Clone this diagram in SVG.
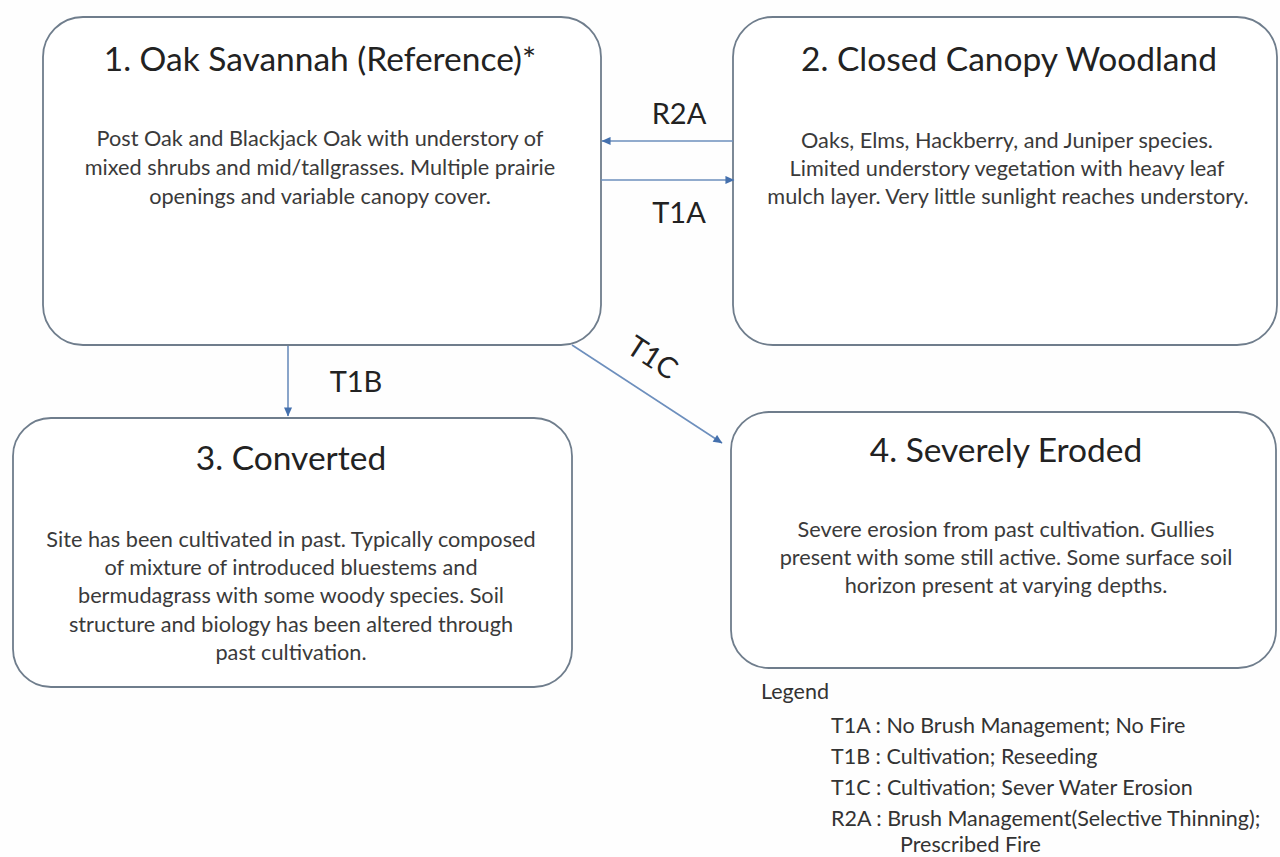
<svg xmlns="http://www.w3.org/2000/svg" width="1280" height="857" viewBox="0 0 1280 857">
<defs>
<style>
.box{fill:#ffffff;stroke:#6f7d8c;stroke-width:1.8}
.title{font-family:Lato,"Liberation Sans",sans-serif;font-size:33.5px;fill:#222;text-anchor:middle}
.body{font-family:Lato,"Liberation Sans",sans-serif;font-size:21.7px;fill:#3a3a3a;text-anchor:middle}
.lbl{font-family:Lato,"Liberation Sans",sans-serif;font-size:29px;fill:#222;text-anchor:middle}
.leg{font-family:Lato,"Liberation Sans",sans-serif;font-size:21.5px;fill:#333}
.conn{stroke:#6d8fbd;stroke-width:1.6;fill:none}
</style>
<marker id="ah" viewBox="0 0 10 10" refX="9.5" refY="5" markerWidth="10" markerHeight="9" orient="auto" markerUnits="userSpaceOnUse">
<path d="M0,0.5 L10,5 L0,9.5 z" fill="#4470ad"/>
</marker>
</defs>
<rect width="1280" height="857" fill="#fefefe"/>
<g id="node1">
<rect class="box" x="43" y="17" width="558" height="328" rx="40"/>
<text class="title" x="320" y="71">1. Oak Savannah (Reference)*</text>
<text class="body" x="320" y="146">Post Oak and Blackjack Oak with understory of</text>
<text class="body" x="320" y="175">mixed shrubs and mid/tallgrasses. Multiple prairie</text>
<text class="body" x="320" y="204">openings and variable canopy cover.</text>
</g>
<g id="node2">
<rect class="box" x="733" y="17" width="544" height="328" rx="40"/>
<text class="title" x="1009" y="71">2. Closed Canopy Woodland</text>
<text class="body" x="1007" y="148">Oaks, Elms, Hackberry, and Juniper species.</text>
<text class="body" x="1007" y="176">Limited understory vegetation with heavy leaf</text>
<text class="body" x="1008" y="204">mulch layer. Very little sunlight reaches understory.</text>
</g>
<g id="node3">
<rect class="box" x="13" y="418" width="559" height="269" rx="38"/>
<text class="title" x="291" y="470">3. Converted</text>
<text class="body" x="291" y="547">Site has been cultivated in past. Typically composed</text>
<text class="body" x="291" y="575">of mixture of introduced bluestems and</text>
<text class="body" x="291" y="603">bermudagrass with some woody species. Soil</text>
<text class="body" x="291" y="632">structure and biology has been altered through</text>
<text class="body" x="291" y="660">past cultivation.</text>
</g>
<g id="node4">
<rect class="box" x="731" y="412" width="545" height="256" rx="38"/>
<text class="title" x="1006" y="462">4. Severely Eroded</text>
<text class="body" x="1006" y="537">Severe erosion from past cultivation. Gullies</text>
<text class="body" x="1006" y="565">present with some still active. Some surface soil</text>
<text class="body" x="1006" y="593">horizon present at varying depths.</text>
</g>
<g id="connectors">
<line class="conn" x1="733" y1="141" x2="602" y2="141" marker-end="url(#ah)"/>
<line class="conn" x1="601" y1="180" x2="734" y2="180" marker-end="url(#ah)"/>
<line class="conn" x1="288" y1="346" x2="288" y2="416" marker-end="url(#ah)"/>
<line class="conn" x1="572" y1="345" x2="722" y2="443" marker-end="url(#ah)"/>
<text class="lbl" x="679" y="124">R2A</text>
<text class="lbl" x="679" y="223">T1A</text>
<text class="lbl" x="356" y="392">T1B</text>
<text class="lbl" transform="translate(647,366) rotate(33)">T1C</text>
</g>
<g id="legend">
<text class="leg" x="761" y="699">Legend</text>
<text class="leg" x="831" y="733">T1A : No Brush Management; No Fire</text>
<text class="leg" x="831" y="764">T1B : Cultivation; Reseeding</text>
<text class="leg" x="831" y="795">T1C : Cultivation; Sever Water Erosion</text>
<text class="leg" x="831" y="826">R2A : Brush Management(Selective Thinning);</text>
<text class="leg" x="900" y="852">Prescribed Fire</text>
</g>
</svg>
